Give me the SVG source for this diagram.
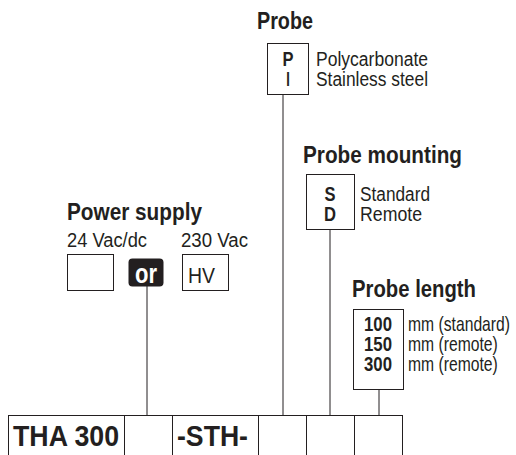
<svg xmlns="http://www.w3.org/2000/svg" width="516" height="455" viewBox="0 0 516 455">
<style>
.b{fill:none;stroke:#231f20;stroke-width:1}
.t{font-family:"Liberation Sans",Arial,sans-serif;fill:#231f20;font-size:20px}
.h{font-family:"Liberation Sans",Arial,sans-serif;fill:#231f20;font-size:23px;font-weight:bold}
.k{font-family:"Liberation Sans",Arial,sans-serif;fill:#231f20;font-size:20px;font-weight:bold}
.m{font-family:"Liberation Sans",Arial,sans-serif;fill:#231f20;font-size:29px;font-weight:bold}
</style>
<rect width="516" height="455" fill="#fff"/>
<g id="connectors" class="b">
<line x1="147" y1="286" x2="147" y2="415"/>
<line x1="283" y1="95" x2="283" y2="415"/>
<line x1="330" y1="230" x2="330" y2="415"/>
<line x1="379" y1="390" x2="379" y2="415"/>
</g>
<g id="code">
<rect class="b" x="8.5" y="415.5" width="394" height="50"/>
<line class="b" x1="124.5" y1="415" x2="124.5" y2="460"/>
<line class="b" x1="172.5" y1="415" x2="172.5" y2="460"/>
<line class="b" x1="258.5" y1="415" x2="258.5" y2="460"/>
<line class="b" x1="306.5" y1="415" x2="306.5" y2="460"/>
<line class="b" x1="354.5" y1="415" x2="354.5" y2="460"/>
<text class="m" x="13" y="446" textLength="106" lengthAdjust="spacingAndGlyphs">THA 300</text>
<text class="m" x="177" y="446" textLength="71" lengthAdjust="spacingAndGlyphs">-STH-</text>
</g>
<g id="probe">
<text class="h" x="257" y="29" textLength="56" lengthAdjust="spacingAndGlyphs">Probe</text>
<rect class="b" x="267.5" y="43.5" width="41" height="51"/>
<text class="k" x="288" y="66" text-anchor="middle" textLength="11" lengthAdjust="spacingAndGlyphs">P</text>
<text class="t" x="288" y="86" text-anchor="middle">I</text>
<text class="t" x="316" y="66" textLength="112" lengthAdjust="spacingAndGlyphs">Polycarbonate</text>
<text class="t" x="316" y="86" textLength="112" lengthAdjust="spacingAndGlyphs">Stainless steel</text>
</g>
<g id="probe-mounting">
<text class="h" x="303" y="163" textLength="159" lengthAdjust="spacingAndGlyphs">Probe mounting</text>
<rect class="b" x="306.5" y="174.5" width="48" height="55"/>
<text class="k" x="330" y="201" text-anchor="middle" textLength="11" lengthAdjust="spacingAndGlyphs">S</text>
<text class="k" x="330" y="221" text-anchor="middle" textLength="12" lengthAdjust="spacingAndGlyphs">D</text>
<text class="t" x="360" y="201" textLength="70" lengthAdjust="spacingAndGlyphs">Standard</text>
<text class="t" x="360" y="221" textLength="62" lengthAdjust="spacingAndGlyphs">Remote</text>
</g>
<g id="probe-length">
<text class="h" x="352" y="297" textLength="124" lengthAdjust="spacingAndGlyphs">Probe length</text>
<rect class="b" x="353.5" y="309.5" width="50" height="80"/>
<text class="k" x="378" y="331" text-anchor="middle" textLength="28" lengthAdjust="spacingAndGlyphs">100</text>
<text class="k" x="378" y="351" text-anchor="middle" textLength="28" lengthAdjust="spacingAndGlyphs">150</text>
<text class="k" x="378" y="371" text-anchor="middle" textLength="28" lengthAdjust="spacingAndGlyphs">300</text>
<text class="t" transform="translate(408,331) scale(0.785,1)">mm (standard)</text>
<text class="t" transform="translate(408,351) scale(0.785,1)">mm (remote)</text>
<text class="t" transform="translate(408,371) scale(0.785,1)">mm (remote)</text>
</g>
<g id="power-supply">
<text class="h" x="67" y="220" textLength="135" lengthAdjust="spacingAndGlyphs">Power supply</text>
<text class="t" x="67" y="247" textLength="80" lengthAdjust="spacingAndGlyphs">24 Vac/dc</text>
<text class="t" x="181" y="247" textLength="67" lengthAdjust="spacingAndGlyphs">230 Vac</text>
<rect class="b" x="67.5" y="254.5" width="46" height="36"/>
<rect x="128.5" y="258.5" width="35" height="28" rx="4" fill="#231f20"/>
<text x="146" y="282.5" text-anchor="middle" textLength="22" lengthAdjust="spacingAndGlyphs" style="font-family:'Liberation Sans',Arial,sans-serif;font-size:27px;font-weight:bold;fill:#fff">or</text>
<rect class="b" x="182.5" y="254.5" width="46" height="36"/>
<text class="t" x="188" y="283" textLength="27" lengthAdjust="spacingAndGlyphs" style="font-size:22px">HV</text>
</g>
</svg>
